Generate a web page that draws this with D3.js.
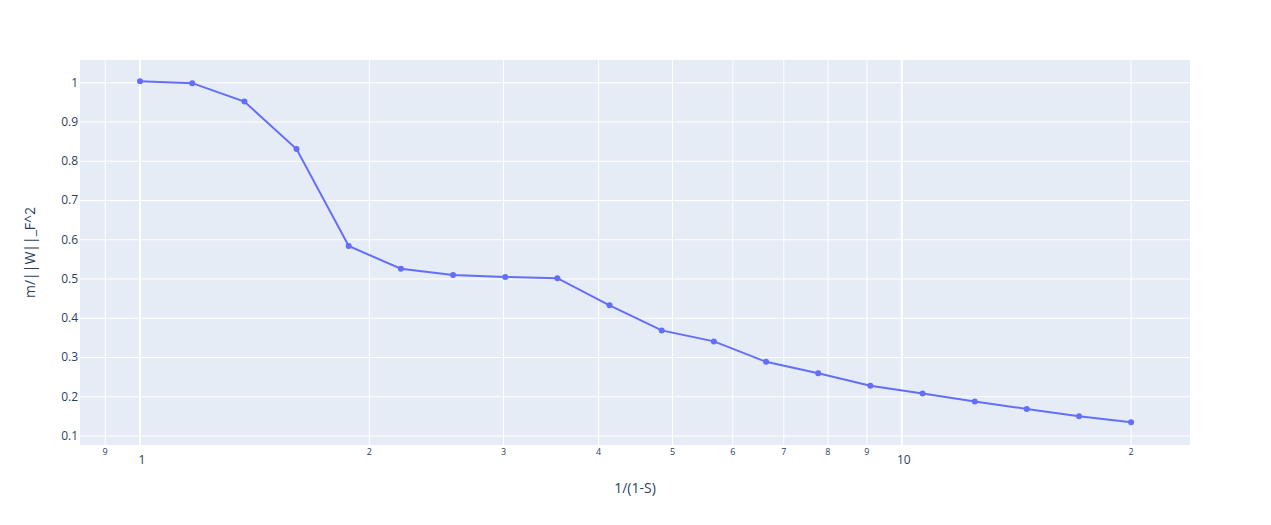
<!DOCTYPE html>
<html><head><meta charset="utf-8">
<script src="https://cdn.jsdelivr.net/npm/d3@7"></script>
<style>body{margin:0;background:#fff}text{font-family:"Open Sans",Arial,sans-serif}</style>
</head><body><svg id="c" width="1271" height="525"></svg>
<script>
const xValues=[1,1.171,1.371,1.605,1.879,2.2,2.576,3.016,3.531,4.134,4.84,5.667,6.635,7.768,9.095,10.65,12.47,14.59,17.09,20];
const yValues=[1.004,0.999,0.952,0.831,0.584,0.526,0.51,0.505,0.502,0.433,0.369,0.341,0.289,0.26,0.228,0.208,0.188,0.169,0.15,0.135];
const xTicks=[0.9,1,2,3,4,5,6,7,8,9,10,20];
const xTickLabels=["9","1","2","3","4","5","6","7","8","9","10","2"];
const yTicks=[0.1,0.2,0.3,0.4,0.5,0.6,0.7,0.8,0.9,1];
const yTickLabels=["0.1","0.2","0.3","0.4","0.5","0.6","0.7","0.8","0.9","1"];
const L=80,R=1190,T=60,B=445;
const svg=d3.select("#c");
const x=d3.scaleLog().domain([0.834,23.9]).range([L,R]);
const y=d3.scaleLinear().domain([0.077,1.058]).range([B,T]);
svg.append("rect").attr("x",L).attr("y",T).attr("width",R-L).attr("height",B-T).attr("fill","#e5ecf6");
const major=v=>v===1||v===10;
svg.selectAll(".gx").data(xTicks).join("line").attr("x1",d=>x(d)).attr("x2",d=>x(d)).attr("y1",T).attr("y2",B)
 .attr("stroke","#fff").attr("stroke-width",d=>major(d)?2:1);
svg.selectAll(".gy").data(yTicks).join("line").attr("x1",L).attr("x2",R).attr("y1",d=>y(d)).attr("y2",d=>y(d)).attr("stroke","#fff");
svg.selectAll(".tx").data(xTicks).join("text").attr("x",d=>x(d)+(major(d)?2:0)).attr("y",d=>major(d)?464:455)
 .attr("text-anchor","middle").attr("font-size",d=>major(d)?12:9).attr("fill","#2a3f5f").text((d,i)=>xTickLabels[i]);
svg.selectAll(".ty").data(yTicks).join("text").attr("x",L-2).attr("y",d=>y(d)+4).attr("text-anchor","end")
 .attr("font-size",12).attr("fill","#2a3f5f").text((d,i)=>yTickLabels[i]);
const pts=xValues.map((v,i)=>[v,yValues[i]]);
svg.append("path").attr("d",d3.line().x(d=>x(d[0])).y(d=>y(d[1]))(pts)).attr("fill","none").attr("stroke","#636efa").attr("stroke-width",2);
svg.selectAll(".p").data(pts).join("circle").attr("cx",d=>x(d[0])).attr("cy",d=>y(d[1])).attr("r",3).attr("fill","#636efa");
svg.append("text").attr("x",(L+R)/2).attr("y",493).attr("text-anchor","middle").attr("font-size",14).attr("fill","#2a3f5f").text("1/(1-S)");
svg.append("text").attr("transform",`translate(35,${(T+B)/2}) rotate(-90)`).attr("text-anchor","middle").attr("font-size",14).attr("fill","#2a3f5f").text("m/||W||_F^2");
</script></body></html>
